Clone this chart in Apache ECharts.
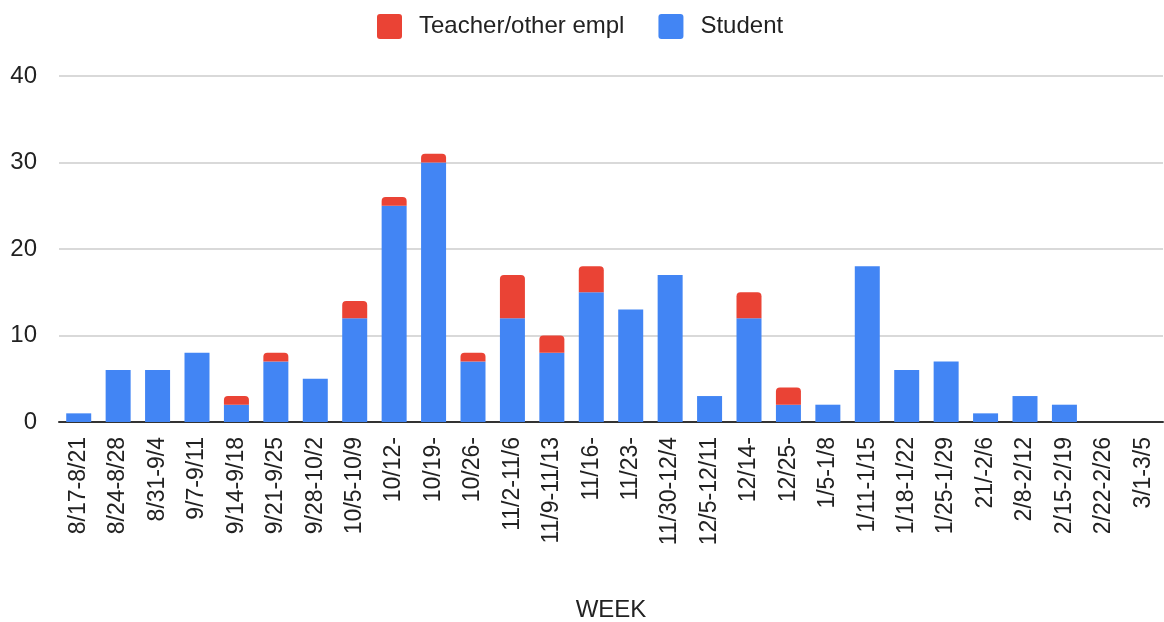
<!DOCTYPE html>
<html>
<head>
<meta charset="utf-8">
<script src="https://cdn.jsdelivr.net/npm/echarts@6/dist/echarts.min.js"></script>
<style>
  html, body { margin: 0; padding: 0; background: #fff; }
  #chart { width: 1164px; height: 622px; }
</style>
</head>
<body>
<div id="chart"></div>
<script>
const weeks = [
  '8/17-8/21', '8/24-8/28', '8/31-9/4', '9/7-9/11', '9/14-9/18', '9/21-9/25',
  '9/28-10/2', '10/5-10/9', '10/12-', '10/19-', '10/26-', '11/2-11/6',
  '11/9-11/13', '11/16-', '11/23-', '11/30-12/4', '12/5-12/11', '12/14-',
  '12/25-', '1/5-1/8', '1/11-1/15', '1/18-1/22', '1/25-1/29', '21/-2/6',
  '2/8-2/12', '2/15-2/19', '2/22-2/26', '3/1-3/5'
]
// students (bottom of the stack)
const student = [1, 6, 6, 8, 2, 7, 5, 12, 25, 30, 7, 12, 8, 15, 13, 17, 3, 12, 2, 2, 18, 6, 7, 1, 3, 2, 0, 0]
// teachers / other employees (top of the stack)
const teacher = [0, 0, 0, 0, 1, 1, 0, 2, 1, 1, 1, 5, 2, 3, 0, 0, 0, 3, 2, 0, 0, 0, 0, 0, 0, 0, 0, 0]
const yTicks = [0, 10, 20, 30, 40]

const font = 'Arial, "Liberation Sans", sans-serif'
// small-radius square for the legend keys
const keyIcon = 'path://M3,0H22A3,3,0,0,1,25,3V22A3,3,0,0,1,22,25H3A3,3,0,0,1,0,22V3A3,3,0,0,1,3,0Z'

const chart = echarts.init(document.getElementById('chart'))

chart.setOption({
  backgroundColor: '#fff',
  animation: false,
  textStyle: { fontFamily: font },
  legend: {
    data: ['Teacher/other empl', 'Student'],
    left: 372,
    top: 9,
    itemWidth: 25,
    itemHeight: 25,
    itemGap: 34,
    icon: keyIcon,
    textStyle: {
      fontSize: 24,
      color: '#222',
      fontFamily: font,
      padding: [0, 0, 0, 12]
    }
  },
  grid: {
    left: 59,
    right: 1,
    top: 76,
    bottom: 200,
    outerBoundsMode: 'none'
  },
  xAxis: {
    type: 'category',
    data: weeks,
    name: 'WEEK',
    nameLocation: 'middle',
    nameGap: 176,
    nameTextStyle: { fontSize: 24, color: '#222', fontFamily: font },
    axisTick: { show: false },
    axisLine: { lineStyle: { color: '#333', width: 2 } },
    axisLabel: {
      rotate: 90,
      interval: 0,
      margin: 15,
      fontSize: 23,
      color: '#222',
      fontFamily: font
    }
  },
  yAxis: {
    type: 'value',
    min: yTicks[0],
    max: yTicks[yTicks.length - 1],
    interval: 10,
    axisLine: { show: false },
    axisTick: { show: false },
    axisLabel: { fontSize: 24, color: '#222', margin: 22, fontFamily: font },
    splitLine: { lineStyle: { color: '#ccc', width: 1.5 } }
  },
  series: [
    {
      name: 'Student',
      type: 'bar',
      stack: 'total',
      barWidth: 25,
      data: student,
      itemStyle: { color: '#4285f4' }
    },
    {
      name: 'Teacher/other empl',
      type: 'bar',
      stack: 'total',
      barWidth: 25,
      data: teacher,
      itemStyle: { color: '#ea4335', borderRadius: [4, 4, 0, 0] }
    }
  ]
})
</script>
</body>
</html>
